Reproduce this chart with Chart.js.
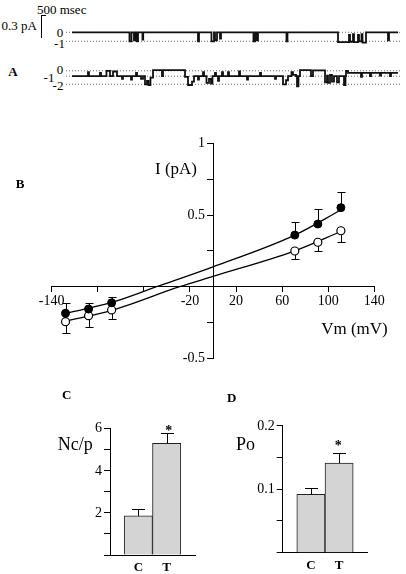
<!DOCTYPE html>
<html>
<head>
<meta charset="utf-8">
<script src="https://cdn.jsdelivr.net/npm/chart.js@4.4.1/dist/chart.umd.min.js"></script>
<style>
  html, body { margin: 0; padding: 0; background: #fff; }
  #fig { position: relative; width: 406px; height: 574px; overflow: hidden;
         font-family: "Liberation Serif", "Times New Roman", serif; color: #000; }
  #fig canvas { position: absolute; }
  .t { position: absolute; transform: translate(-50%, -50%); white-space: nowrap; line-height: 1; }
  .yl { position: absolute; transform: translate(-100%, -50%); white-space: nowrap; line-height: 1; font-size: 14px; }
  .bar { position: absolute; border-left: 1px solid #000; border-top: 1px solid #000; }
</style>
</head>
<body>
<div id="fig">
  <div class="bar" style="left:41px;top:15px;width:4px;height:22px"></div>
  <canvas id="trace1" width="336" height="24" style="left:66px;top:24px"></canvas>
  <canvas id="trace2" width="336" height="30" style="left:66px;top:62px"></canvas>
  <canvas id="iv" width="406" height="250" style="left:0;top:130px"></canvas>
  <canvas id="ncp" width="170" height="194" style="left:40px;top:380px"></canvas>
  <canvas id="po" width="190" height="194" style="left:210px;top:380px"></canvas>
</div>
<script>
const SERIF = '"Liberation Serif", "Times New Roman", serif';

// A: single channel records, [time (ms), current level]
const traceRange = [-150, 8250];
const trace1Levels = [0, -1];
const trace1 = [
  [0, 0], [1437, -1], [1487, 0], [1550, -0.9], [1587, 0], [1625, -1], [1650, 0],
  [1762, -0.8], [1780, 0], [3150, -1], [3175, 0], [3487, -1], [3550, 0],
  [3575, -0.9], [3625, 0], [3700, -0.7], [3725, 0], [4537, -1], [4575, 0],
  [4612, -0.9], [4650, 0], [5362, -1], [5387, 0],
  [6650, -1.1], [6925, -0.3], [6950, -1.05], [7025, -0.2], [7050, -1.1],
  [7150, -0.3], [7175, -1], [7237, -0.2], [7262, -1.15], [7350, 0],
  [7900, -0.9], [7925, 0], [8150, 0]
];
const trace2Levels = [0, -0.8, -2];
const trace2 = [
  [0, -0.8], [400, -0.2], [425, -0.8], [700, -0.3], [725, -0.8], [862, 0], [950, -0.8],
  [1025, -0.1], [1125, -0.8], [1250, -1.2], [1275, -0.8], [1475, -1.3], [1500, -0.8],
  [1600, -0.3], [1625, -0.8], [1725, -1.2], [1775, -0.8], [1825, -2], [1875, -1.5],
  [1912, -2.1], [1962, -1.0], [2025, 0.1], [2250, -0.8], [2275, 0.1], [2825, -0.9],
  [2900, -2.1], [3000, -1.6], [3050, -0.8], [3150, -1.3], [3175, -0.8], [3275, -0.2],
  [3300, -0.8], [3362, -1.8], [3425, -1.2], [3475, -1.9], [3512, -0.8], [3575, -0.3],
  [3600, -0.8], [3650, -1.5], [3675, -0.8], [3750, -0.2], [3775, -0.8], [3900, -0.2],
  [3925, -0.8], [4175, -0.1], [4200, -0.8], [4375, -1.3], [4400, -0.8], [4700, -0.3],
  [4725, -0.8], [5075, -1.2], [5100, -0.8], [5275, -2], [5350, -1.4], [5400, -0.8],
  [5487, -0.2], [5525, -0.6], [5600, -0.8], [5625, -2.3], [5662, -0.8], [5700, 0.1],
  [5975, -0.8], [6025, 0.05], [6325, -1.7], [6375, -0.7], [6400, -1.8], [6450, -0.6],
  [6500, -1.6], [6550, -0.8], [6625, -1.7], [6675, -0.8], [6800, -2.1], [6837, -0.8],
  [6850, 0], [6900, -0.3], [7225, -0.9], [7250, -0.3], [7450, -0.8], [7475, -0.3],
  [7700, -0.7], [7725, -0.3], [7950, -0.8], [7975, -0.3], [8150, -0.3]
];

// B: I-V relation
const vm = [-128, -108, -88, 71, 91, 111];
const iFilled = [-0.185, -0.156, -0.112, 0.36, 0.437, 0.551];
const iFilledErr = [0.069, 0.04, 0.038, 0.089, 0.103, 0.107];
const iOpen = [-0.244, -0.202, -0.162, 0.249, 0.31, 0.39];
const iOpenErr = [0.081, 0.081, 0.065, 0.056, 0.059, 0.076];
const fitFilledV = [-130, -88, -49, 0, 71, 111];
const fitFilledI = [-0.19, -0.11, 0, 0.139, 0.36, 0.535];
const fitOpenV = [-130, -88, -29, 0, 71, 111];
const fitOpenI = [-0.245, -0.165, 0, 0.072, 0.25, 0.385];
const vmTickLabels = [-140, -20, 20, 60, 100, 140];
const iTickLabels = [-0.5, 0.5, 1];

// C, D: bar graphs
const groups = ['C', 'T'];
const ncp = [1.85, 5.29];
const ncpErr = [0.34, 0.48];
const ncpTickLabels = [2, 4, 6];
const po = [0.092, 0.141];
const poErr = [0.0105, 0.016];
const poTickLabels = [0.1, 0.2];

const fig = document.getElementById('fig');

// text labels (panel letters, axis titles, annotations)
const texts = [
  ['500 msec', 61.7, 8.5, 13, false],
  ['0.3 pA', 19.2, 25.3, 13, false],
  ['0', 60, 31.5, 13, false],
  ['-1', 59.5, 43, 13, false],
  ['A', 13, 71, 13, true],
  ['-1', 49, 77, 13, false],
  ['0', 60, 69, 13, false],
  ['-2', 58, 84.5, 13, false],
  ['B', 20, 183, 13, true],
  ['I (pA)', 176, 168, 17, false],
  ['Vm (mV)', 354.5, 328, 17, false],
  ['C', 66.7, 394, 13, true],
  ['Nc/p', 75.3, 443.5, 18, false],
  ['*', 168.7, 430.7, 14, true],
  ['D', 231.7, 396.7, 13, true],
  ['Po', 245.5, 444, 18, false],
  ['*', 338.3, 446, 14, true]
];
texts.forEach(([s, x, y, size, bold]) => {
  const d = document.createElement('div');
  d.className = 't';
  d.textContent = s;
  d.style.left = x + 'px';
  d.style.top = y + 'px';
  d.style.fontSize = size + 'px';
  if (bold) d.style.fontWeight = 'bold';
  fig.appendChild(d);
});

Chart.defaults.font.family = SERIF;
Chart.defaults.color = '#000';
Chart.defaults.animation = false;
Chart.defaults.responsive = false;
Chart.defaults.plugins.legend.display = false;
Chart.defaults.plugins.tooltip.enabled = false;

const xy = (xs, ys) => xs.map((x, i) => ({ x: x, y: ys[i] }));
const hasLabel = (list, v) => list.some(l => Math.abs(l - v) < 1e-9);

function line(ctx, x1, y1, x2, y2) {
  ctx.beginPath();
  ctx.moveTo(x1, y1);
  ctx.lineTo(x2, y2);
  ctx.stroke();
}

// y tick labels placed left of the axis line, positioned from the chart's y scale
function yTickLabels(chart, axisX, labels) {
  const c = chart.canvas;
  const y = chart.scales.y;
  labels.forEach(v => {
    const d = document.createElement('div');
    d.className = 'yl';
    d.textContent = String(v);
    d.style.left = (c.offsetLeft + axisX - 8) + 'px';
    d.style.top = (c.offsetTop + y.getPixelForValue(v)) + 'px';
    fig.appendChild(d);
  });
}

function traceChart(id, trace, levels, yMin, yMax) {
  const levelSets = levels.map(l => ({
    data: traceRange.map(t => ({ x: t, y: l })),
    showLine: true, borderColor: '#666', borderWidth: 1, borderDash: [1, 2], pointRadius: 0
  }));
  new Chart(document.getElementById(id), {
    type: 'scatter',
    data: {
      datasets: [{
        data: trace.map(p => ({ x: p[0], y: p[1] })),
        showLine: true, stepped: true, borderColor: '#111', borderWidth: 1.8, pointRadius: 0
      }].concat(levelSets)
    },
    options: {
      layout: { padding: 0 },
      scales: {
        x: { type: 'linear', display: false, min: traceRange[0], max: traceRange[1] },
        y: { display: false, min: yMin, max: yMax }
      }
    }
  });
}

traceChart('trace1', trace1, trace1Levels, -1.744, 0.92);
traceChart('trace2', trace2, trace2Levels, -3.14, 1.304);

// error bars for the I-V plot
const ivErrorBars = {
  id: 'ivErrorBars',
  beforeDatasetsDraw(chart) {
    const { ctx, scales: { x, y } } = chart;
    ctx.save();
    ctx.strokeStyle = '#000';
    ctx.lineWidth = 1;
    const bar = (v, from, to) => {
      const px = Math.round(x.getPixelForValue(v)) + 0.5;
      const p0 = y.getPixelForValue(from);
      const p1 = Math.round(y.getPixelForValue(to)) + 0.5;
      line(ctx, px, p0, px, p1);
      line(ctx, px - 4, p1, px + 4, p1);
    };
    vm.forEach((v, k) => {
      bar(v, iFilled[k], iFilled[k] + iFilledErr[k]);
      bar(v, iOpen[k], iOpen[k] - iOpenErr[k]);
    });
    ctx.restore();
  }
};

const axisGrid = (len) => ({ drawOnChartArea: false, drawTicks: true, tickLength: len, color: '#000' });

const ivChart = new Chart(document.getElementById('iv'), {
  type: 'scatter',
  data: {
    datasets: [
      { data: xy(vm, iFilled), pointRadius: 4, pointBackgroundColor: '#000', pointBorderColor: '#000', pointBorderWidth: 1 },
      { data: xy(vm, iOpen), pointRadius: 4, pointBackgroundColor: '#fff', pointBorderColor: '#000', pointBorderWidth: 1.2 },
      { data: xy(fitFilledV, fitFilledI), showLine: true, pointRadius: 0, borderColor: '#000', borderWidth: 1.3, cubicInterpolationMode: 'monotone' },
      { data: xy(fitOpenV, fitOpenI), showLine: true, pointRadius: 0, borderColor: '#000', borderWidth: 1.3, cubicInterpolationMode: 'monotone' }
    ]
  },
  options: {
    layout: { padding: { left: 51.7, right: 31.7, top: 13.3, bottom: 21.6 } },
    scales: {
      x: {
        type: 'linear', min: -140, max: 140, position: { y: 0 },
        ticks: { stepSize: 40, autoSkip: false, maxRotation: 0, padding: 1, font: { size: 14 },
                 callback: v => hasLabel(vmTickLabels, v) ? String(v) : '' },
        grid: axisGrid(5), border: { color: '#000', width: 1 }
      },
      y: {
        type: 'linear', min: -0.5, max: 1, position: { x: 0 },
        ticks: { stepSize: 0.25, autoSkip: false, callback: () => '' },
        grid: axisGrid(6), border: { color: '#000', width: 1 }
      }
    }
  },
  plugins: [ivErrorBars]
});
yTickLabels(ivChart, ivChart.scales.x.getPixelForValue(0), iTickLabels);

function barErrors(errs) {
  return {
    id: 'barErrors',
    afterDatasetsDraw(chart) {
      const { ctx, scales: { y } } = chart;
      const vals = chart.data.datasets[0].data;
      ctx.save();
      ctx.strokeStyle = '#000';
      ctx.lineWidth = 1;
      chart.getDatasetMeta(0).data.forEach((bar, i) => {
        const px = Math.round(bar.x) + 0.5;
        const top = Math.round(y.getPixelForValue(vals[i].y + errs[i])) + 0.5;
        line(ctx, px, bar.y, px, top);
        line(ctx, px - 6.5, top, px + 6.5, top);
      });
      ctx.restore();
    }
  };
}

function barChart(id, values, errs, yMax, step, tickLabels, pad) {
  const chart = new Chart(document.getElementById(id), {
    type: 'bar',
    data: {
      datasets: [{
        data: groups.map((g, i) => ({ x: i + 1, y: values[i] })),
        backgroundColor: '#d4d4d4', borderColor: '#222', borderWidth: 1,
        barPercentage: 1, categoryPercentage: 1
      }]
    },
    options: {
      layout: { padding: pad },
      scales: {
        x: {
          type: 'linear', min: 0, max: 3, offset: false,
          ticks: { stepSize: 1, autoSkip: false, maxRotation: 0, padding: 5,
                   font: { size: 13, weight: 'bold' },
                   callback: v => groups[v - 1] || '' },
          grid: { drawOnChartArea: false, drawTicks: false, offset: false },
          border: { color: '#000', width: 1 },
          afterFit: s => { s.height = 18; }
        },
        y: {
          min: 0, max: yMax,
          ticks: { stepSize: step, autoSkip: false, callback: () => '' },
          grid: axisGrid(6), border: { color: '#000', width: 1 },
          afterFit: s => { s.width = 24; }
        }
      }
    },
    plugins: [barErrors(errs)]
  });
  yTickLabels(chart, chart.scales.x.left, tickLabels);
  return chart;
}

barChart('ncp', ncp, ncpErr, 6, 1, ncpTickLabels, { left: 46, right: 15, top: 48.3, bottom: 1 });
barChart('po', po, poErr, 0.2, 0.05, poTickLabels, { left: 48.7, right: 32.7, top: 45.7, bottom: 3.3 });
</script>
</body>
</html>
